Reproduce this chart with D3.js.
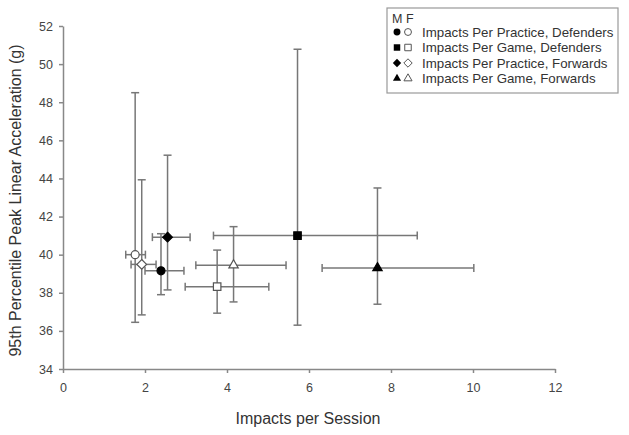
<!DOCTYPE html>
<html>
<head>
<meta charset="utf-8">
<script src="https://cdn.jsdelivr.net/npm/d3@7"></script>
<style>
html, body { margin: 0; padding: 0; background: #fff; overflow: hidden; }
svg { display: block; }
text { font-family: "Liberation Sans", Arial, sans-serif; fill: #333; }
</style>
</head>
<body>
<svg id="main" width="629" height="435"></svg>
<script>
const width = 629;
const height = 435;
const position = { left: 63, top: 26, right: 74, bottom: 66 };
const innerWidth = width - position.left - position.right;
const innerHeight = height - position.top - position.bottom;

// groups: M = filled, F = open
const labels = [
    'Impacts Per Practice, Defenders',
    'Impacts Per Game, Defenders',
    'Impacts Per Practice, Forwards',
    'Impacts Per Game, Forwards'
];
const shapes = ['circle', 'square', 'diamond', 'triangle'];
const sexes = ['M', 'F'];

// one value per label, male then female
const xM = [2.39, 5.72, 2.55, 7.67];
const xMLo = [2.0, 3.67, 2.18, 6.32];
const xMHi = [2.95, 8.64, 3.1, 10.02];
const yM = [39.15, 41.0, 40.92, 39.3];
const yMLo = [37.9, 36.3, 38.15, 37.4];
const yMHi = [41.1, 50.78, 45.22, 43.5];

const xF = [1.76, 3.76, 1.92, 4.16];
const xFLo = [1.53, 2.98, 1.66, 3.24];
const xFHi = [2.01, 5.02, 2.27, 5.44];
const yF = [40.0, 38.32, 39.49, 39.45];
const yFLo = [36.45, 36.93, 36.84, 37.52];
const yFHi = [48.5, 40.24, 43.93, 41.47];

const xTicks = [0, 2, 4, 6, 8, 10, 12];
const yTicks = [34, 36, 38, 40, 42, 44, 46, 48, 50, 52];

const points = [];
labels.forEach((l, i) => {
    points.push({ sex: 'M', shape: shapes[i], x: xM[i], xLo: xMLo[i], xHi: xMHi[i], y: yM[i], yLo: yMLo[i], yHi: yMHi[i] });
    points.push({ sex: 'F', shape: shapes[i], x: xF[i], xLo: xFLo[i], xHi: xFHi[i], y: yF[i], yLo: yFLo[i], yHi: yFHi[i] });
});

const svg = d3.select('#main');
const g = svg.append('g').attr('transform', `translate(${position.left}, ${position.top})`);

const x = d3.scaleLinear().domain([0, 12]).range([0, innerWidth]);
const y = d3.scaleLinear().domain([34, 52]).range([innerHeight, 0]);

const xAxis = g.append('g')
    .attr('transform', `translate(0, ${innerHeight})`)
    .call(d3.axisBottom(x).tickValues(xTicks).tickSize(4).tickPadding(10).tickSizeOuter(0));
const yAxis = g.append('g')
    .call(d3.axisLeft(y).tickValues(yTicks).tickSize(4).tickPadding(6).tickSizeOuter(0));
[xAxis, yAxis].forEach(a => {
    a.attr('font-family', null).attr('font-size', null);
    a.selectAll('path, line').attr('stroke', '#888').attr('stroke-width', 1.5);
    a.selectAll('text').attr('font-size', 12.5).style('fill', '#444');
});

// axis titles
svg.append('text')
    .attr('x', position.left + innerWidth / 2 - 1)
    .attr('y', 424)
    .attr('text-anchor', 'middle')
    .attr('font-size', 16)
    .text('Impacts per Session');
svg.append('text')
    .attr('transform', `translate(21, ${position.top + innerHeight / 2 + 3}) rotate(-90)`)
    .attr('text-anchor', 'middle')
    .attr('font-size', 16)
    .text('95th Percentile Peak Linear Acceleration (g)');

// error bars
const bars = g.append('g').attr('stroke', '#777').attr('stroke-width', 1.5);
const cap = 4;
points.forEach(d => {
    bars.append('line').attr('x1', x(d.x)).attr('x2', x(d.x)).attr('y1', y(d.yLo)).attr('y2', y(d.yHi));
    bars.append('line').attr('x1', x(d.x) - cap).attr('x2', x(d.x) + cap).attr('y1', y(d.yLo)).attr('y2', y(d.yLo));
    bars.append('line').attr('x1', x(d.x) - cap).attr('x2', x(d.x) + cap).attr('y1', y(d.yHi)).attr('y2', y(d.yHi));
    bars.append('line').attr('x1', x(d.xLo)).attr('x2', x(d.xHi)).attr('y1', y(d.y)).attr('y2', y(d.y));
    bars.append('line').attr('x1', x(d.xLo)).attr('x2', x(d.xLo)).attr('y1', y(d.y) - cap).attr('y2', y(d.y) + cap);
    bars.append('line').attr('x1', x(d.xHi)).attr('x2', x(d.xHi)).attr('y1', y(d.y) - cap).attr('y2', y(d.y) + cap);
});

const symbolType = {
    circle: d3.symbolCircle,
    square: d3.symbolSquare,
    diamond: d3.symbolDiamond2,
    triangle: d3.symbolTriangle
};
const symbolSize = { circle: 50, square: 56, diamond: 60, triangle: 38 };
const symbol = (s, k) => d3.symbol().type(symbolType[s]).size(symbolSize[s] * k)();

g.selectAll('.pt')
    .data(points)
    .join('path')
    .attr('class', 'pt')
    .attr('transform', d => `translate(${x(d.x)}, ${y(d.y)})`)
    .attr('d', d => symbol(d.shape, 1))
    .attr('fill', d => d.sex === 'M' ? '#000' : '#fff')
    .attr('stroke', d => d.sex === 'M' ? '#000' : '#555')
    .attr('stroke-width', 1.2);

// legend
const legend = svg.append('g').attr('transform', 'translate(387, 8)');
legend.append('rect')
    .attr('width', 231).attr('height', 85)
    .attr('fill', '#fff').attr('stroke', '#999').attr('stroke-width', 1.2);
legend.append('text').attr('x', 5).attr('y', 15).attr('font-size', 12.5).text(sexes.join(' '));
labels.forEach((l, i) => {
    const cy = 24 + i * 15.5;
    legend.append('path')
        .attr('transform', `translate(10, ${cy})`)
        .attr('d', symbol(shapes[i], 0.75))
        .attr('fill', '#000');
    legend.append('path')
        .attr('transform', `translate(21, ${cy})`)
        .attr('d', symbol(shapes[i], 0.75))
        .attr('fill', '#fff').attr('stroke', '#555');
    legend.append('text')
        .attr('x', 35).attr('y', cy + 4.5)
        .attr('font-size', 13.3)
        .text(l);
});
</script>
</body>
</html>
